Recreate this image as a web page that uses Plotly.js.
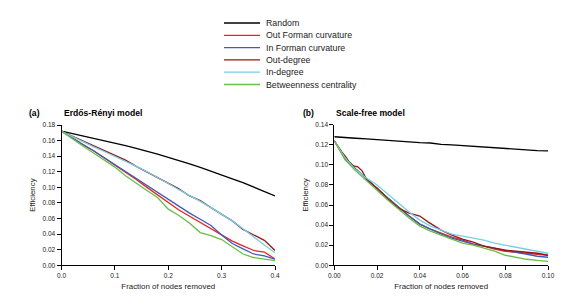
<!DOCTYPE html>
<html>
<head>
<meta charset="utf-8">
<script src="https://cdn.plot.ly/plotly-3.0.1.min.js"></script>
<style>html,body{margin:0;padding:0;background:#fff;}#chart{width:582px;height:307px;}</style>
</head>
<body>
<div id="chart"></div>
<script>
// ---------- Data ----------
const seriesNames = ["Random", "Out Forman curvature", "In Forman curvature", "Out-degree", "In-degree", "Betweenness centrality"];
const seriesColors = ["#000000", "#ee2222", "#3d5bbf", "#9a1515", "#74d0e6", "#66c043"];

// (a) Erdős-Rényi model
const erX = [0,0.02,0.04,0.06,0.08,0.10,0.12,0.14,0.16,0.18,0.20,0.22,0.24,0.26,0.28,0.30,0.32,0.34,0.36,0.38,0.40];
const erRandom   = [0.172,0.169,0.166,0.163,0.160,0.157,0.1535,0.150,0.1465,0.1425,0.1385,0.1345,0.130,0.1255,0.121,0.116,0.111,0.106,0.1005,0.095,0.089];
const erOutForman= [0.172,0.163,0.155,0.147,0.138,0.129,0.120,0.110,0.100,0.090,0.080,0.071,0.063,0.055,0.047,0.038,0.031,0.025,0.019,0.017,0.008];
const erInForman = [0.172,0.163,0.155,0.147,0.138,0.130,0.121,0.112,0.102,0.093,0.084,0.075,0.067,0.059,0.051,0.039,0.028,0.021,0.0145,0.012,0.008];
const erOutDeg   = [0.172,0.166,0.160,0.154,0.148,0.142,0.135,0.127,0.120,0.113,0.105,0.098,0.089,0.083,0.074,0.066,0.057,0.046,0.039,0.032,0.019];
const erInDeg    = [0.172,0.165,0.158,0.152,0.146,0.140,0.134,0.127,0.120,0.113,0.105,0.097,0.090,0.082,0.074,0.066,0.057,0.047,0.036,0.026,0.016];
const erBetween  = [0.172,0.162,0.153,0.144,0.135,0.126,0.115,0.105,0.096,0.087,0.072,0.064,0.054,0.042,0.038,0.033,0.024,0.0145,0.010,0.008,0.006];

// (b) Scale-free model
const sfX = [0,0.005,0.01,0.015,0.02,0.025,0.03,0.035,0.04,0.045,0.05,0.055,0.06,0.065,0.07,0.075,0.08,0.085,0.09,0.095,0.10];
const sfRandom   = [0.128,0.127,0.1265,0.1258,0.125,0.1245,0.1238,0.1225,0.1222,0.1218,0.1205,0.120,0.1193,0.1185,0.1178,0.117,0.1165,0.1157,0.1145,0.1142,0.114];
const sfOutForman= [0.124,0.107,0.096,0.086,0.076,0.067,0.058,0.049,0.041,0.036,0.032,0.028,0.025,0.021,0.019,0.016,0.014,0.013,0.012,0.011,0.010];
const sfInForman = [0.124,0.106,0.096,0.086,0.076,0.067,0.058,0.049,0.041,0.036,0.031,0.027,0.024,0.021,0.019,0.017,0.015,0.013,0.011,0.009,0.008];
const sfOutDegX  = [0,0.002,0.0035,0.005,0.007,0.009,0.011,0.013,0.015,0.018,0.02,0.025,0.03,0.035,0.04,0.044,0.05,0.055,0.06,0.065,0.07,0.075,0.08,0.085,0.09,0.095,0.10];
const sfOutDeg   = [0.124,0.117,0.113,0.109,0.103,0.099,0.098,0.094,0.086,0.080,0.077,0.066,0.057,0.052,0.049,0.043,0.035,0.030,0.026,0.023,0.019,0.017,0.015,0.014,0.013,0.012,0.010];
const sfInDeg    = [0.124,0.107,0.095,0.087,0.080,0.071,0.062,0.053,0.045,0.039,0.035,0.031,0.029,0.027,0.025,0.022,0.020,0.018,0.016,0.014,0.012];
const sfBetween  = [0.124,0.105,0.094,0.084,0.075,0.065,0.056,0.047,0.039,0.034,0.030,0.026,0.022,0.020,0.017,0.014,0.010,0.008,0.006,0.005,0.004];

const panelTitles = ["(a)", "Erdős-Rényi model", "(b)", "Scale-free model"];
const xTitle = "Fraction of nodes removed";
const yTitle = "Efficiency";

// ---------- Build ----------
const W = 582, H = 307;
const px = v => v / W, py = v => 1 - v / H;
const FONT = "Arial, 'Liberation Sans', sans-serif";

const erY = [erRandom, erOutForman, erInForman, erOutDeg, erInDeg, erBetween];
const sfY = [sfRandom, sfOutForman, sfInForman, sfOutDeg, sfInDeg, sfBetween];
const sfXs = [sfX, sfX, sfX, sfOutDegX, sfX, sfX];

const traces = [];
seriesNames.forEach((n, i) => {
  traces.push({x: erX, y: erY[i], type: 'scatter', mode: 'lines', name: n, showlegend: false,
    line: {color: seriesColors[i], width: 1.3}, xaxis: 'x', yaxis: 'y'});
});
seriesNames.forEach((n, i) => {
  traces.push({x: sfXs[i], y: sfY[i], type: 'scatter', mode: 'lines', name: n, showlegend: false,
    line: {color: seriesColors[i], width: 1.3}, xaxis: 'x2', yaxis: 'y2'});
});

const axBase = {
  showgrid: false, zeroline: false, showline: true, linecolor: '#000', linewidth: 1,
  ticks: 'outside', ticklen: 4, tickwidth: 1, tickcolor: '#000',
  tickfont: {family: FONT, size: 6.5, color: '#222'}, fixedrange: true
};
const xTitleObj = {text: xTitle, font: {family: FONT, size: 7.9, color: '#222'}, standoff: 5};
const yTitleObj = {text: yTitle, font: {family: FONT, size: 7.9, color: '#222'}, standoff: 5};

const shapes = [], annotations = [];
// manual legend
seriesNames.forEach((n, i) => {
  const yy = 23 + i * 12.3;
  shapes.push({type: 'line', xref: 'paper', yref: 'paper', x0: px(224), x1: px(260), y0: py(yy), y1: py(yy),
    line: {color: seriesColors[i], width: 1.3}});
  annotations.push({xref: 'paper', yref: 'paper', x: px(264), y: py(yy), xanchor: 'left', yanchor: 'middle',
    text: n, showarrow: false, font: {family: FONT, size: 8.8, color: '#222'}});
});
// panel titles
const titlePos = [[27, 113], [62, 113], [301, 113], [334, 113]];
panelTitles.forEach((t, i) => {
  annotations.push({xref: 'paper', yref: 'paper', x: px(titlePos[i][0]), y: py(titlePos[i][1]),
    xanchor: 'left', yanchor: 'middle', text: '<b>' + t + '</b>', showarrow: false,
    font: {family: FONT, size: 8.6, color: '#000'}});
});

const layout = {
  width: W, height: H, margin: {l: 0, r: 0, t: 0, b: 0},
  paper_bgcolor: '#fff', plot_bgcolor: '#fff', showlegend: false,
  xaxis: Object.assign({}, axBase, {domain: [px(61.5), px(275)], range: [0, 0.4], dtick: 0.1, tick0: 0, tickformat: '.1f', title: xTitleObj, anchor: 'y'}),
  yaxis: Object.assign({}, axBase, {domain: [py(265.3), py(125)], range: [0, 0.18], dtick: 0.02, tick0: 0, tickformat: '.2f', title: yTitleObj, anchor: 'x'}),
  xaxis2: Object.assign({}, axBase, {domain: [px(334.3), px(548)], range: [0, 0.1], dtick: 0.02, tick0: 0, tickformat: '.2f', title: xTitleObj, anchor: 'y2'}),
  yaxis2: Object.assign({}, axBase, {domain: [py(265.3), py(124.7)], range: [0, 0.14], dtick: 0.02, tick0: 0, tickformat: '.2f', title: yTitleObj, anchor: 'x2'}),
  shapes: shapes, annotations: annotations
};

Plotly.newPlot('chart', traces, layout, {staticPlot: true, displayModeBar: false});
</script>
</body>
</html>
